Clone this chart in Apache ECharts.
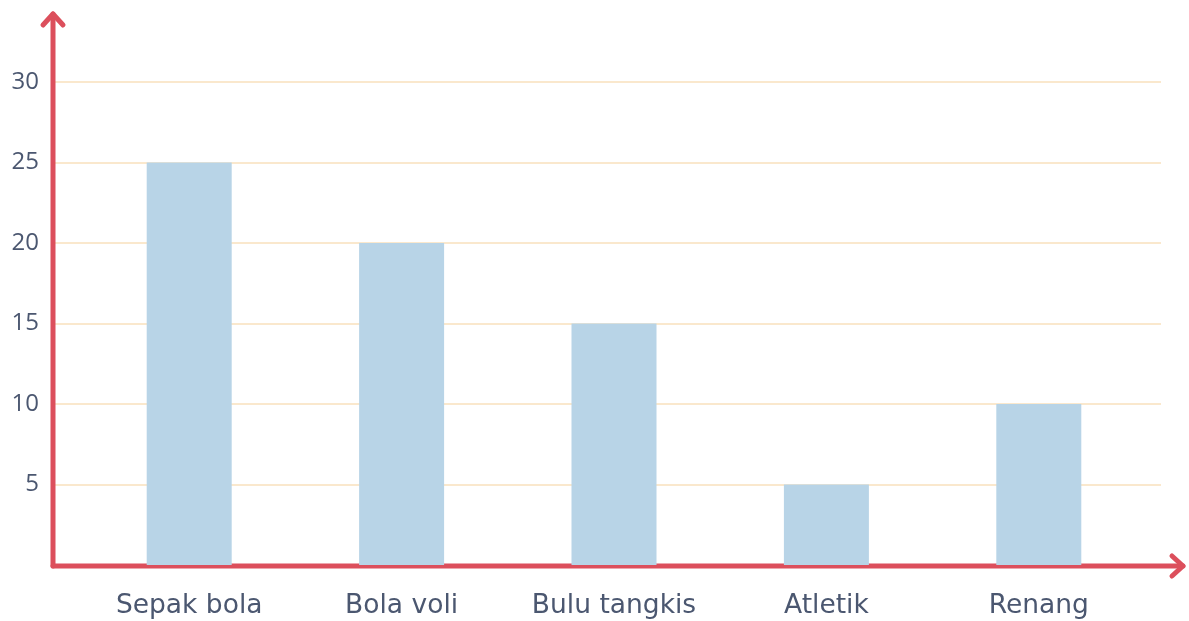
<!DOCTYPE html>
<html>
<head>
<meta charset="utf-8">
<script src="https://cdn.jsdelivr.net/npm/echarts@6/dist/echarts.min.js"></script>
<style>
html,body{margin:0;padding:0;background:#fff;}
#main{width:1189px;height:621px;}
</style>
</head>
<body>
<div id="main"></div>
<script>
var categories=["Sepak bola","Bola voli","Bulu tangkis","Atletik","Renang"];
var values=[25,20,15,5,10];
var yTicks=[0,5,10,15,20,25,30];

var red="#dc4f5c";
var textColor="#4b5770";
var myChart=echarts.init(document.getElementById('main'));
var option={
	backgroundColor:"#fff",
	animation:false,
	grid:[
		{left:53,right:28,top:82,bottom:56},   //网格线和y轴
		{left:83,right:44,top:82,bottom:56}    //柱子
	],
	xAxis:[
		{gridIndex:0,type:'value',show:false,min:0,max:1},
		{
			gridIndex:1,
			type:'category',
			data:categories,
			axisLine:{show:false},
			axisTick:{show:false},
			axisLabel:{
				interval:0,
				hideOverlap:false,
				color:textColor,
				fontFamily:"DejaVu Sans",
				fontSize:26.5,
				margin:28
			}
		}
	],
	yAxis:[
		{
			gridIndex:0,
			type:'value',
			min:yTicks[0],
			max:yTicks[yTicks.length-1],
			interval:5,
			axisLine:{show:false},
			axisTick:{show:false},
			axisLabel:{
				color:textColor,
				fontFamily:"Open Sans",
				fontSize:24,
				margin:14,
				formatter:function(v){return v==0?"":v;}
			},
			splitLine:{lineStyle:{color:"#f8e0bd",width:1.5}}
		},
		{gridIndex:1,type:'value',show:false,min:0,max:30}
	],
	series:[
		{
			type:'bar',
			xAxisIndex:1,
			yAxisIndex:1,
			barWidth:85,
			itemStyle:{color:"#b8d4e7"},
			data:values
		}
	]
};
myChart.setOption(option);

//坐标轴和箭头
var o=myChart.convertToPixel({gridIndex:0},[0,0]);
var x0=o[0],y0=o[1]+1;
var lineStyle={stroke:red,lineWidth:5,lineCap:'round',lineJoin:'round',fill:null};
myChart.setOption({
	graphic:[
		{type:'polyline',shape:{points:[[x0,y0],[x0,14]]},style:lineStyle},
		{type:'polyline',shape:{points:[[x0-10,25],[x0,14],[x0+10,25]]},style:lineStyle},
		{type:'polyline',shape:{points:[[x0,y0],[1183,y0]]},style:lineStyle},
		{type:'polyline',shape:{points:[[1172,y0-10],[1183,y0],[1172,y0+10]]},style:lineStyle}
	]
});
</script>
</body>
</html>
